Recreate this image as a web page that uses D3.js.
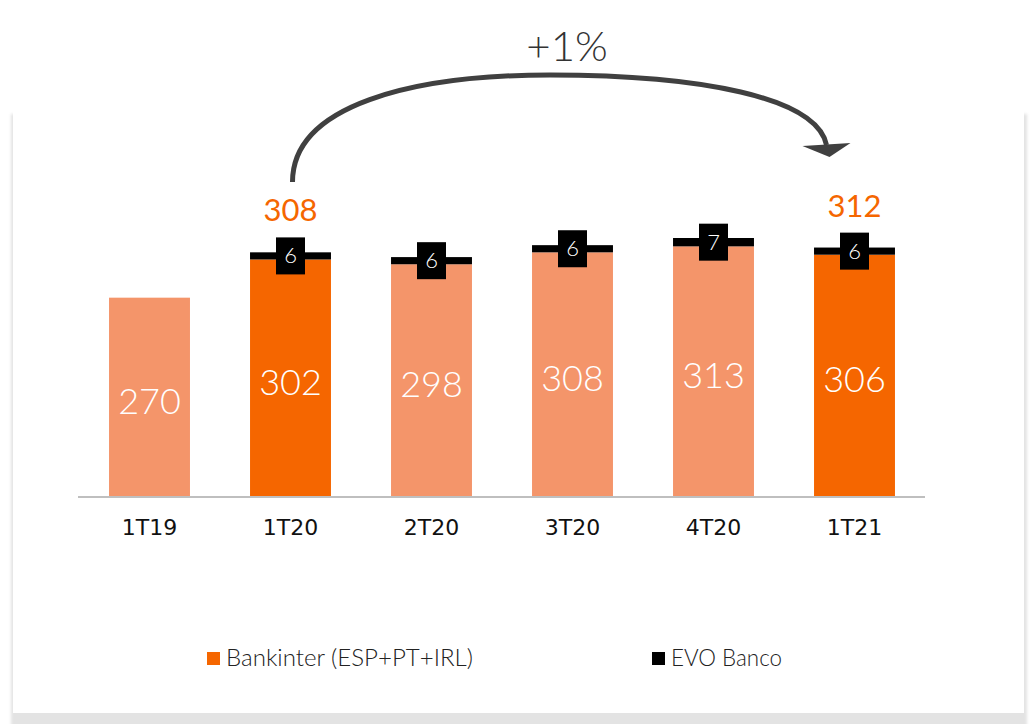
<!DOCTYPE html>
<html><head><meta charset="utf-8">
<script src="https://cdn.jsdelivr.net/npm/d3@7"></script>
<style>html,body{margin:0;padding:0;background:#fff;}svg{display:block;}</style>
</head><body>
<svg id="c" width="1032" height="724"></svg>
<script>
const categories = ["1T19","1T20","2T20","3T20","4T20","1T21"];
const bankinter = [270, 302, 298, 308, 313, 306];
const evo = [0, 6, 6, 6, 7, 6];
const highlighted = ["1T20", "1T21"];
const growthLabel = "+1%";
const legendLabels = ["Bankinter (ESP+PT+IRL)", "EVO Banco"];

const DARK = "#f56600", LIGHT = "#f4956a", BLACK = "#000000";
const svg = d3.select("#c");

// card + shadow
const defs = svg.append("defs");
const f = defs.append("filter").attr("id","blur").attr("x","-5%").attr("y","-5%").attr("width","110%").attr("height","110%");
f.append("feGaussianBlur").attr("stdDeviation", 1.6);
svg.append("rect").attr("x",11).attr("y",114).attr("width",1016).attr("height",620).attr("fill","#e3e3e3").attr("filter","url(#blur)");
svg.append("rect").attr("x",13).attr("y",111).attr("width",1011).attr("height",602).attr("fill","#fff");

const x = d3.scaleBand().domain(categories).range([79, 925]).paddingInner(0.426).paddingOuter(0.213);
const y = d3.scaleLinear().domain([103, 320]).range([497, 238]);
const bw = x.bandwidth();
const cx = c => x(c) + bw / 2;

const data = categories.map((c, i) => ({c, b: bankinter[i], e: evo[i], hl: highlighted.includes(c)}));

// bankinter bars
svg.append("g").selectAll("rect").data(data).join("rect")
  .attr("x", d => x(d.c)).attr("width", bw)
  .attr("y", d => y(d.b)).attr("height", d => y(103) - y(d.b))
  .attr("fill", d => d.hl ? DARK : LIGHT);

// evo bars
const ev = data.filter(d => d.e > 0);
svg.append("g").selectAll("rect").data(ev).join("rect")
  .attr("x", d => x(d.c)).attr("width", bw)
  .attr("y", d => y(d.b + d.e)).attr("height", d => y(d.b) - y(d.b + d.e))
  .attr("fill", BLACK);

// axis
const axis = svg.append("g").attr("transform", "translate(0,497)").call(d3.axisBottom(x).tickSize(0).tickPadding(0));
axis.select(".domain").attr("stroke", "#bfbfbf").attr("stroke-width", 2).attr("d", "M78,0H925");
axis.selectAll("text").attr("dy", null).attr("y", 38).attr("fill", "#111")
  .style("font-family", "'DejaVu Sans', sans-serif").style("font-size", "22px");

// inside labels
svg.append("g").selectAll("text").data(data).join("text")
  .attr("x", d => cx(d.c)).attr("y", d => (y(d.b) + y(103)) / 2 + 16.5)
  .attr("text-anchor", "middle").attr("fill", "#fff")
  .style("font-family", "Lato, sans-serif").style("font-weight", 300).style("font-size", "36px")
  .text(d => d.b);

// evo label boxes
const eg = svg.append("g").selectAll("g").data(ev).join("g")
  .attr("transform", d => `translate(${cx(d.c)},${(y(d.b) + y(d.b + d.e)) / 2})`);
eg.append("rect").attr("x", -14.5).attr("y", -18.5).attr("width", 29).attr("height", 37).attr("fill", BLACK);
eg.append("text").attr("y", 7.5).attr("text-anchor", "middle").attr("fill", "#fff")
  .style("font-family", "Lato, sans-serif").style("font-weight", 300).style("font-size", "22px").text(d => d.e);

// totals
svg.append("g").selectAll("text").data(data.filter(d => d.hl)).join("text")
  .attr("x", d => cx(d.c)).attr("y", d => y(d.b + d.e) - 31)
  .attr("text-anchor", "middle").attr("fill", DARK)
  .style("font-family", "Lato, sans-serif").style("font-size", "31px")
  .text(d => d.b + d.e);

// growth arc
const x0 = cx("1T20") + 2, x1 = cx("1T21") - 28;
const ys = 182, ypk = 75, ye = 145;
const xm = 550;
svg.append("path")
  .attr("d", `M${x0},${ys} C${x0},${ypk+30} ${x0+120},${ypk} ${xm},${ypk} C${xm+150},${ypk} ${x1-10},${ypk+22} ${x1},${ye}`)
  .attr("fill", "none").attr("stroke", "#404040").attr("stroke-width", 5);
svg.append("path")
  .attr("d", `M${x1-24},${ye+1} L${x1+24},${ye-2} L${x1+3},${ye+12} Z`)
  .attr("fill", "#404040");
svg.append("text").attr("x", 567).attr("y", 61).attr("text-anchor", "middle")
  .attr("fill", "#333").style("font-family", "Lato, sans-serif").style("font-weight", 300).style("font-size", "42px")
  .text(growthLabel);

// legend
const lg = svg.append("g");
const items = [{t: legendLabels[0], c: DARK, x: 207, w: 247}, {t: legendLabels[1], c: BLACK, x: 652, w: 111}];
items.forEach(it => {
  lg.append("rect").attr("x", it.x).attr("y", 652).attr("width", 13).attr("height", 13).attr("fill", it.c);
  lg.append("text").attr("x", it.x + 19).attr("y", 666).attr("fill", "#222")
    .attr("textLength", it.w).attr("lengthAdjust", "spacingAndGlyphs")
    .style("font-family", "Lato, sans-serif").style("font-weight", 300).style("font-size", "23px").text(it.t);
});
</script>
</body></html>
